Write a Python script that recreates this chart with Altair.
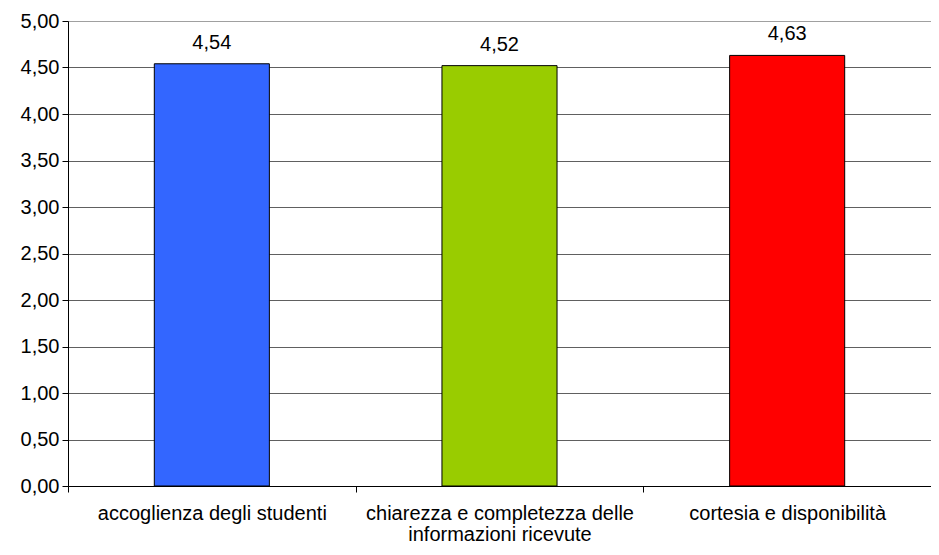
import altair as alt
import pandas as pd

categories = ["accoglienza degli studenti",
              "chiarezza e completezza delle informazioni ricevute",
              "cortesia e disponibilità"]
values = [4.54, 4.52, 4.63]
colors = ["#3366FF", "#99CC00", "#FF0000"]

df = pd.DataFrame({"cat": categories, "val": values, "col": colors})
df["lbl"] = df["val"].map(lambda v: f"{v:.2f}".replace(".", ","))

FONT = "Liberation Sans"
FS = 20

x = alt.X("cat:N", sort=categories, title=None,
          scale=alt.Scale(paddingInner=0, paddingOuter=0),
          axis=alt.Axis(labelAngle=0, tickBand="extent", grid=False,
                        domainColor="#000000", tickColor="#000000", tickSize=6,
                        labelFont=FONT, labelFontSize=FS, labelColor="#000000",
                        labelPadding=11, labelLineHeight=21, labelLimit=400,
                        labelExpr="datum.label == 'chiarezza e completezza delle informazioni ricevute' ? ['chiarezza e completezza delle', 'informazioni ricevute'] : datum.label"))

y = alt.Y("val:Q", title=None,
          scale=alt.Scale(domain=[0, 5], nice=False),
          axis=alt.Axis(values=[0, 0.5, 1, 1.5, 2, 2.5, 3, 3.5, 4, 4.5, 5],
                        labelExpr="replace(format(datum.value, '.2f'), '.', ',')",
                        grid=True,
                        gridColor={"condition": {"test": "datum.value >= 5", "value": "#A0A0A0"},
                                   "value": "#606060"},
                        gridWidth=1,
                        domainColor="#000000", tickColor="#000000", tickSize=6,
                        labelFont=FONT, labelFontSize=FS, labelColor="#000000",
                        labelPadding=3))

bars = alt.Chart(df).mark_bar(width=alt.RelativeBandSize(0.40), stroke="#000000",
                              strokeWidth=1).encode(
    x=x, y=y, fill=alt.Fill("col:N", scale=None))

text = alt.Chart(df).mark_text(dy=-15, baseline="alphabetic", font=FONT, fontSize=FS,
                               color="#000000").encode(
    x=alt.X("cat:N", sort=categories), y="val:Q", text="lbl:N")

chart = alt.layer(bars, text).properties(
    width=863, height=465,
    autosize=alt.AutoSizeParams(type="none"),
    padding={"left": 60, "top": 13, "right": 0, "bottom": 61},
).configure_view(stroke=None).configure(background="#FFFFFF")

chart.save("out.html", embed_options={"renderer": "svg", "actions": False})
